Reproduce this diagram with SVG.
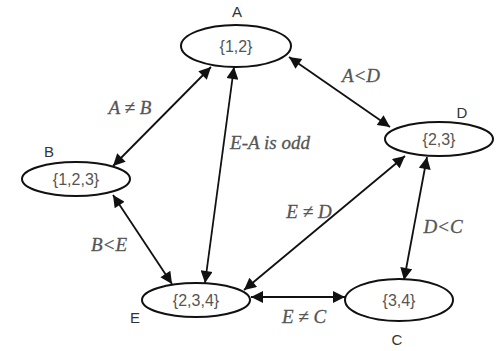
<svg xmlns="http://www.w3.org/2000/svg" width="497" height="351" viewBox="0 0 497 351">
<style>
.n{fill:#fff;stroke:#111;stroke-width:2}
.v{font-family:"Liberation Sans",Arial,sans-serif;font-size:16px;fill:#555;text-anchor:middle}
.l{font-family:"Liberation Sans",Arial,sans-serif;font-size:15px;fill:#333;text-anchor:middle}
.e{font-family:"Liberation Serif","Times New Roman",serif;font-style:italic;font-size:19px;fill:#555;stroke:#555;stroke-width:0.3;text-anchor:middle}
.c{stroke:#111;stroke-width:1.8;fill:none;marker-start:url(#ah);marker-end:url(#ah)}
</style>
<defs>
<marker id="ah" viewBox="0 0 10 10" refX="10" refY="5" markerWidth="14" markerHeight="12" orient="auto-start-reverse" markerUnits="userSpaceOnUse">
<path d="M0,0 L10,5 L0,10 z" fill="#111"/>
</marker>
</defs>
<rect width="497" height="351" fill="#fff"/>
<g id="connectors">
<line class="c" x1="211" y1="67" x2="113" y2="166"/>
<line class="c" x1="234" y1="67" x2="205" y2="283"/>
<line class="c" x1="289" y1="57" x2="390" y2="127"/>
<line class="c" x1="113" y1="195" x2="172" y2="284"/>
<line class="c" x1="405" y1="156" x2="244" y2="290"/>
<line class="c" x1="427" y1="157" x2="404" y2="280"/>
<line class="c" x1="251" y1="297" x2="345" y2="297"/>
<text class="e" x="130" y="114">A ≠ B</text>
<text class="e" x="270" y="149">E-A is odd</text>
<text class="e" x="361" y="82">A&lt;D</text>
<text class="e" x="309" y="218">E ≠ D</text>
<text class="e" x="443" y="233">D&lt;C</text>
<text class="e" x="109" y="251">B&lt;E</text>
<text class="e" x="304" y="323">E ≠ C</text>
</g>
<g id="A"><ellipse class="n" cx="236" cy="46" rx="55" ry="21"/><text class="v" x="236" y="52">{1,2}</text><text class="l" x="237" y="17">A</text></g>
<g id="B"><ellipse class="n" cx="76" cy="179" rx="54" ry="17"/><text class="v" x="76" y="185">{1,2,3}</text><text class="l" x="49" y="157">B</text></g>
<g id="D"><ellipse class="n" cx="439" cy="139" rx="54" ry="17"/><text class="v" x="439" y="145">{2,3}</text><text class="l" x="462" y="118">D</text></g>
<g id="E"><ellipse class="n" cx="196" cy="300" rx="54" ry="17"/><text class="v" x="196" y="306">{2,3,4}</text><text class="l" x="135" y="323">E</text></g>
<g id="C"><ellipse class="n" cx="399" cy="300" rx="54" ry="21"/><text class="v" x="399" y="306">{3,4}</text><text class="l" x="397" y="345">C</text></g>
</svg>
